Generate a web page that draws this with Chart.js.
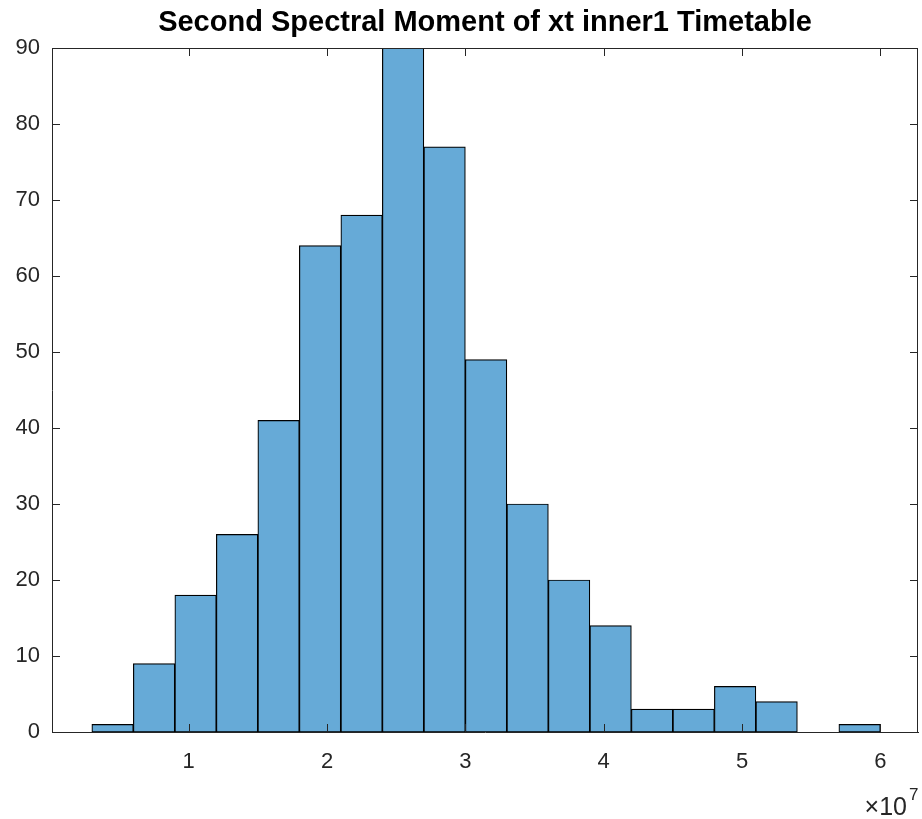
<!DOCTYPE html>
<html>
<head>
<meta charset="utf-8">
<script src="https://cdn.jsdelivr.net/npm/chart.js@4.4.1/dist/chart.umd.min.js"></script>
<style>
  html, body { margin: 0; padding: 0; background: #fff; }
  #wrap { width: 922px; height: 819px; }
</style>
</head>
<body>
<div id="wrap"><canvas id="histChart"></canvas></div>
<script>
// histogram data (bin width 0.3e7)
const binEdges = [0.3, 0.6, 0.9, 1.2, 1.5, 1.8, 2.1, 2.4, 2.7, 3.0, 3.3, 3.6, 3.9, 4.2, 4.5, 4.8, 5.1, 5.4, 5.7, 6.0];
const counts = [1, 9, 18, 26, 41, 64, 68, 90, 77, 49, 30, 20, 14, 3, 3, 6, 4, 0, 1];
const xTicks = [1, 2, 3, 4, 5, 6];
const yTicks = [0, 10, 20, 30, 40, 50, 60, 70, 80, 90];
const titleText = 'Second Spectral Moment of xt inner1 Timetable';

const SCALE = 1e7;
const axisColor = '#262626';
const fontFamily = 'Liberation Sans, Arial, sans-serif';
const tickFont = { family: fontFamily, size: 22 };

const barData = counts.map((c, i) => ({ x: (binEdges[i] + binEdges[i + 1]) / 2 * SCALE, y: c }));

// matlab style: box, inward ticks, title, exponent label
const matlabAxes = {
    id: 'matlabAxes',
    afterDraw(chart) {
        const ctx = chart.ctx;
        const a = chart.chartArea;
        const xs = chart.scales.x, ys = chart.scales.y;
        const tl = 8;
        ctx.save();
        ctx.strokeStyle = axisColor;
        ctx.lineWidth = 1;
        ctx.beginPath();
        ctx.moveTo(a.left, a.top + 0.5); ctx.lineTo(a.right, a.top + 0.5);
        ctx.moveTo(a.right - 0.5, a.top); ctx.lineTo(a.right - 0.5, a.bottom);
        xTicks.forEach(v => {
            const px = Math.round(xs.getPixelForValue(v * SCALE)) + 0.5;
            ctx.moveTo(px, a.bottom); ctx.lineTo(px, a.bottom - tl);
            ctx.moveTo(px, a.top); ctx.lineTo(px, a.top + tl);
        });
        yTicks.forEach(v => {
            const py = Math.round(ys.getPixelForValue(v)) + 0.5;
            ctx.moveTo(a.left, py); ctx.lineTo(a.left + tl, py);
            ctx.moveTo(a.right, py); ctx.lineTo(a.right - tl, py);
        });
        ctx.stroke();

        // title
        ctx.fillStyle = '#000';
        ctx.font = 'bold 29px ' + fontFamily;
        ctx.textAlign = 'center';
        ctx.textBaseline = 'middle';
        ctx.fillText(titleText, (a.left + a.right) / 2, 23);

        // x10^7
        ctx.fillStyle = axisColor;
        ctx.textAlign = 'right';
        ctx.textBaseline = 'alphabetic';
        ctx.font = '25px ' + fontFamily;
        ctx.fillText('\u00d710', a.right - 11, 815);
        ctx.textAlign = 'left';
        ctx.font = '17px ' + fontFamily;
        ctx.fillText('7', a.right - 9, 800);
        ctx.restore();
    }
};

document.addEventListener('DOMContentLoaded', function() {
    const ctx = document.getElementById('histChart').getContext('2d');
    new Chart(ctx, {
        type: 'bar',
        data: {
            datasets: [{
                data: barData,
                backgroundColor: '#66aad7',
                borderColor: '#000',
                borderWidth: 1.2,
                borderSkipped: false,
                barPercentage: 1,
                categoryPercentage: 1
            }]
        },
        options: {
            responsive: true,
            maintainAspectRatio: false,
            animation: false,
            layout: { padding: { top: 48, right: 4, left: 0, bottom: 0 } },
            plugins: {
                legend: { display: false },
                title: { display: false },
                tooltip: { enabled: false }
            },
            scales: {
                x: {
                    type: 'linear',
                    offset: false,
                    min: 0.012 * SCALE,
                    max: 6.272 * SCALE,
                    afterBuildTicks: s => { s.ticks = xTicks.map(v => ({ value: v * SCALE })); },
                    afterFit: s => { s.height = 87; },
                    ticks: {
                        color: axisColor,
                        font: tickFont,
                        padding: 17,
                        maxRotation: 0,
                        callback: v => String(v / SCALE)
                    },
                    grid: { display: false, drawTicks: false, offset: false },
                    border: { display: true, color: axisColor, width: 1 }
                },
                y: {
                    min: 0,
                    max: 90,
                    afterBuildTicks: s => { s.ticks = yTicks.map(v => ({ value: v })); },
                    afterFit: s => { s.width = 52; },
                    ticks: {
                        color: axisColor,
                        font: tickFont,
                        padding: 12
                    },
                    grid: { display: false, drawTicks: false },
                    border: { display: true, color: axisColor, width: 1 }
                }
            }
        },
        plugins: [matlabAxes]
    });
});
</script>
</body>
</html>
